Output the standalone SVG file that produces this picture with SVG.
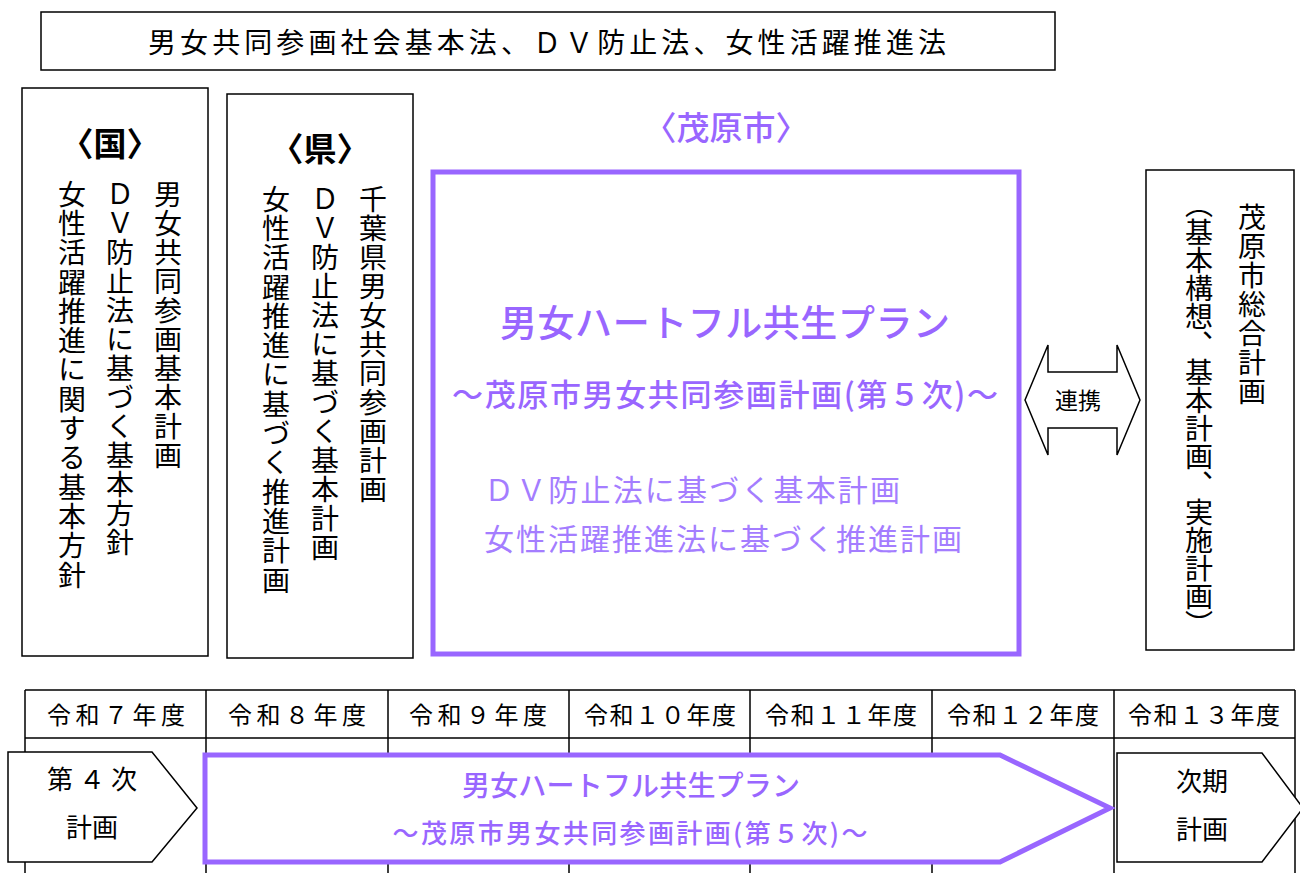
<svg xmlns="http://www.w3.org/2000/svg" width="1300" height="873" viewBox="0 0 1300 873">
<style>
text{font-family:"Noto Sans CJK JP","Noto Sans",sans-serif;fill:#000}
.box{fill:#fff;stroke:#000;stroke-width:1.5}
.pbox{fill:#fff;stroke:#9966ff;stroke-width:5}
.p{fill:#9966ff}
.pl{fill:#a47dff}
.v{writing-mode:vertical-rl;font-size:28px;letter-spacing:1px}
.c{text-anchor:middle}
.h{font-size:24px;text-anchor:middle}
.grid{stroke:#000;stroke-width:1.5;fill:none}
</style>
<rect width="1300" height="873" fill="#fff"/>
<g id="laws">
<rect class="box" x="41" y="12" width="1014" height="58"/>
<text x="148" y="53" font-size="28" textLength="798" lengthAdjust="spacing">男女共同参画社会基本法、ＤＶ防止法、女性活躍推進法</text>
</g>
<g id="kuni">
<rect class="box" x="22" y="88" width="186" height="568"/>
<text class="c" x="110" y="156" font-size="33" font-weight="bold">〈国〉</text>
<text class="v" x="168" y="180">男女共同参画基本計画</text>
<text class="v" x="120" y="180">ＤＶ防止法に基づく基本方針</text>
<text class="v" x="72" y="180" style="letter-spacing:1.3px">女性活躍推進に関する基本方針</text>
</g>
<g id="ken">
<rect class="box" x="227" y="94" width="186" height="564"/>
<text class="c" x="320" y="161" font-size="33" font-weight="bold">〈県〉</text>
<text class="v" x="373" y="185">千葉県男女共同参画計画</text>
<text class="v" x="325" y="185">ＤＶ防止法に基づく基本計画</text>
<text class="v" x="276" y="185" style="letter-spacing:1.3px">女性活躍推進に基づく推進計画</text>
</g>
<g id="mobara">
<text class="c p" x="726" y="140" font-size="33" font-weight="500">〈茂原市〉</text>
<rect class="pbox" x="433" y="172" width="586" height="482"/>
<text class="p" x="500" y="337" font-size="37" font-weight="500" textLength="450" lengthAdjust="spacing">男女ハートフル共生プラン</text>
<text class="p" x="452" y="406" font-size="31" font-weight="500" textLength="546" lengthAdjust="spacing">～茂原市男女共同参画計画(第５次)～</text>
<text class="pl" x="484" y="501" font-size="30" textLength="416" lengthAdjust="spacing">ＤＶ防止法に基づく基本計画</text>
<text class="pl" x="484" y="550" font-size="30" textLength="478" lengthAdjust="spacing">女性活躍推進法に基づく推進計画</text>
</g>
<g id="connectors">
<path class="box" d="M1025,400 L1048,345 L1048,372 L1117,372 L1117,345 L1140,400 L1117,455 L1117,428 L1048,428 L1048,455 Z"/>
<text class="c" x="1078" y="409" font-size="23">連携</text>
</g>
<g id="sougou">
<rect class="box" x="1146" y="170" width="148" height="480"/>
<text class="v" x="1252" y="203">茂原市総合計画</text>
<text class="v" x="1199" y="190" style="letter-spacing:0px">（基本構想、基本計画、実施計画）</text>
</g>
<g id="timeline">
<path class="grid" d="M25,690 H1295 M25,738 H1295 M25,690 V873 M206,690 V873 M388,690 V873 M569,690 V873 M750,690 V873 M932,690 V873 M1114,690 V873 M1295,690 V873"/>
<text class="h" x="116" y="724" textLength="138" lengthAdjust="spacing">令和７年度</text>
<text class="h" x="297" y="724" textLength="138" lengthAdjust="spacing">令和８年度</text>
<text class="h" x="478" y="724" textLength="138" lengthAdjust="spacing">令和９年度</text>
<text class="h" x="660" y="724" textLength="152" lengthAdjust="spacing">令和１０年度</text>
<text class="h" x="841" y="724" textLength="152" lengthAdjust="spacing">令和１１年度</text>
<text class="h" x="1023" y="724" textLength="152" lengthAdjust="spacing">令和１２年度</text>
<text class="h" x="1204" y="724" textLength="152" lengthAdjust="spacing">令和１３年度</text>
</g>
<g id="plan4">
<path class="box" d="M8,752 H152 L197,808 L152,862 H8 Z"/>
<text class="c" x="92" y="789" font-size="26" textLength="90" lengthAdjust="spacing">第４次</text>
<text class="c" x="92" y="837" font-size="26">計画</text>
</g>
<g id="plan5">
<path class="pbox" d="M205,755 H1000 L1110,808 L1000,862 H205 Z"/>
<text class="c p" x="631" y="796" font-size="28" font-weight="500" textLength="338" lengthAdjust="spacing">男女ハートフル共生プラン</text>
<text class="c p" x="630" y="843" font-size="26" font-weight="500" textLength="475" lengthAdjust="spacing">～茂原市男女共同参画計画(第５次)～</text>
</g>
<g id="nextplan">
<path class="box" d="M1117,753 H1262 L1303,808 L1262,862 H1117 Z"/>
<text class="c" x="1202" y="791" font-size="26">次期</text>
<text class="c" x="1202" y="839" font-size="26">計画</text>
</g>
</svg>
